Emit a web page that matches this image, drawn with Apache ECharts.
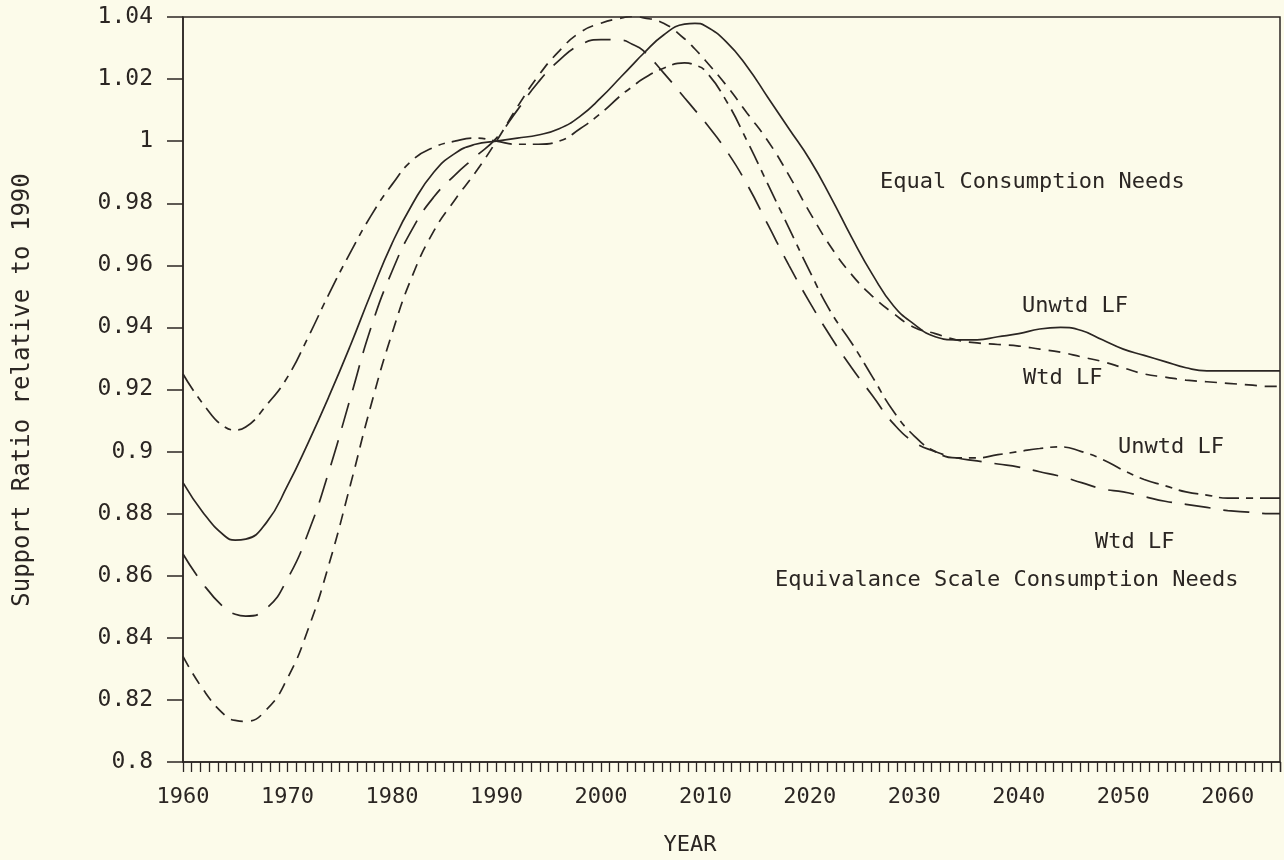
<!DOCTYPE html>
<html>
<head>
<meta charset="utf-8">
<script src="https://cdn.jsdelivr.net/npm/echarts@6/dist/echarts.min.js"></script>
<style>
html,body{margin:0;padding:0;background:#fcfbea;}
#chart{width:1284px;height:860px;}
</style>
</head>
<body>
<div id="chart"></div>
<script>
const years = [1960,1962,1964,1965,1966,1968,1970,1972,1974,1976,1978,1980,1982,1984,1986,1988,1990,1992,1994,1996,1998,2000,2002,2003,2004,2006,2008,2009,2010,2012,2014,2016,2018,2020,2022,2024,2026,2028,2030,2032,2034,2036,2038,2040,2042,2044,2046,2048,2050,2052,2054,2056,2058,2060,2062,2064,2065];

// Equal consumption needs, unweighted labor force (solid)
const equalUnwtd = [0.890,0.880,0.8728,0.8715,0.8718,0.8772,0.889,0.903,0.918,0.934,0.951,0.967,0.980,0.990,0.996,0.999,1.000,1.001,1.002,1.004,1.008,1.014,1.021,1.0245,1.028,1.0342,1.0377,1.03795,1.0371,1.032,1.024,1.014,1.004,0.994,0.982,0.969,0.957,0.947,0.941,0.937,0.936,0.936,0.937,0.938,0.9395,0.940,0.939,0.936,0.933,0.931,0.929,0.927,0.926,0.926,0.926,0.926,0.926];

// Equal consumption needs, weighted labor force (short dash)
const equalWtd = [0.834,0.823,0.8151,0.8134,0.8131,0.8169,0.827,0.843,0.864,0.889,0.915,0.938,0.957,0.971,0.981,0.990,1.000,1.011,1.021,1.029,1.035,1.038,1.0397,1.0402,1.0398,1.038,1.033,1.0297,1.026,1.018,1.009,1.000,0.989,0.977,0.966,0.957,0.950,0.9445,0.940,0.938,0.936,0.935,0.9345,0.934,0.933,0.932,0.9305,0.929,0.927,0.925,0.924,0.923,0.9225,0.922,0.9215,0.921,0.921];

// Equivalance scale consumption needs, unweighted labor force (dash-dot)
const equivUnwtd = [0.925,0.915,0.9079,0.907,0.9079,0.915,0.924,0.937,0.951,0.964,0.976,0.986,0.994,0.998,1.000,1.001,1.000,0.999,0.999,1.000,1.004,1.009,1.015,1.0175,1.020,1.0235,1.0252,1.0245,1.0226,1.013,1.000,0.986,0.972,0.958,0.945,0.935,0.924,0.913,0.905,0.900,0.898,0.898,0.899,0.900,0.901,0.9015,0.900,0.8975,0.894,0.891,0.889,0.887,0.886,0.885,0.885,0.885,0.885];

// Equivalance scale consumption needs, weighted labor force (long dash)
const equivWtd = [0.867,0.857,0.8495,0.8476,0.847,0.8495,0.859,0.874,0.894,0.917,0.940,0.958,0.972,0.982,0.989,0.995,1.001,1.010,1.019,1.026,1.031,1.0327,1.0325,1.0312,1.0293,1.022,1.014,1.010,1.006,0.997,0.986,0.973,0.960,0.948,0.937,0.927,0.918,0.909,0.903,0.900,0.898,0.897,0.896,0.895,0.8935,0.892,0.890,0.888,0.887,0.8855,0.884,0.883,0.882,0.881,0.8805,0.880,0.880];

const xTickValues = [1960,1970,1980,1990,2000,2010,2020,2030,2040,2050,2060];
const xTickLabels = ['1960','1970','1980','1990','2000','2010','2020','2030','2040','2050','2060'];
const yTickLabels = ['0.8','0.82','0.84','0.86','0.88','0.9','0.92','0.94','0.96','0.98','1','1.02','1.04'];

const annotations = [
  {text:'Equal Consumption Needs', x:880, y:182},
  {text:'Unwtd LF', x:1022, y:306},
  {text:'Wtd LF', x:1023, y:378},
  {text:'Unwtd LF', x:1118, y:447},
  {text:'Wtd LF', x:1095, y:542},
  {text:'Equivalance Scale Consumption Needs', x:775, y:580}
];

const INK = '#2b2623';
const FONT = '"DejaVu Sans Mono", "Liberation Mono", monospace';

function pairs(arr){ return years.map((y,i)=>[y, arr[i]]); }

function lineSeries(name, arr, type){
  return {
    name: name, type: 'line', data: pairs(arr), xAxisIndex: 0, yAxisIndex: 0,
    showSymbol: false, smooth: 0.5, silent: true,
    lineStyle: {color: INK, width: 1.7, type: type}
  };
}

const chart = echarts.init(document.getElementById('chart'), null, {renderer:'canvas'});
chart.setOption({
  animation: false,
  backgroundColor: '#fcfbea',
  grid: {left:183, right:4, top:17, bottom:98, show:true, borderColor:INK, borderWidth:1.5, backgroundColor:'transparent'},
  xAxis: [
    {
      type:'value', min:1960, max:2065, interval:10, position:'bottom',
      axisLine:{show:true, lineStyle:{color:INK, width:1.5}},
      axisTick:{show:false},
      splitLine:{show:false},
      axisLabel:{
        show:true, margin:24, color:INK, fontFamily:FONT, fontSize:22, showMaxLabel:false,
        formatter:function(v){ const i = xTickValues.indexOf(Math.round(v)); return (i>=0 && Math.abs(v-xTickValues[i])<1e-6) ? xTickLabels[i] : ''; }
      }
    },
    {
      type:'value', min:1960, max:2065, interval:10/12, position:'bottom',
      axisLine:{show:false},
      axisTick:{show:true, length:10, lineStyle:{color:INK, width:1.3}},
      axisLabel:{show:false},
      splitLine:{show:false}
    }
  ],
  yAxis: {
    type:'value', min:0.8, max:1.04, interval:0.02,
    axisLine:{show:true, lineStyle:{color:INK, width:1.5}},
    axisTick:{show:true, length:16, lineStyle:{color:INK, width:1.5}},
    splitLine:{show:false},
    axisLabel:{
      margin:30, color:INK, fontFamily:FONT, fontSize:23,
      formatter:function(v){ const i = Math.round((v-0.8)/0.02); return yTickLabels[i] || ''; }
    }
  },
  graphic: [
    {type:'text', x:23, y:390, rotation:Math.PI/2, silent:true,
     style:{text:'Support Ratio relative to 1990', fill:INK, font:'24px '+FONT, textAlign:'center', textVerticalAlign:'middle'}},
    {type:'text', x:690, y:845, silent:true,
     style:{text:'YEAR', fill:INK, font:'22px '+FONT, textAlign:'center', textVerticalAlign:'middle'}}
  ].concat(annotations.map(a=>({
    type:'text', x:a.x, y:a.y, silent:true,
    style:{text:a.text, fill:INK, font:'22px '+FONT, textAlign:'left', textVerticalAlign:'middle'}
  }))),
  series: [
    lineSeries('Equal Unwtd LF', equalUnwtd, 'solid'),
    lineSeries('Equal Wtd LF', equalWtd, [12, 8]),
    lineSeries('Equivalance Unwtd LF', equivUnwtd, [20, 7, 7, 7]),
    lineSeries('Equivalance Wtd LF', equivWtd, [26, 13])
  ]
});
</script>
</body>
</html>
